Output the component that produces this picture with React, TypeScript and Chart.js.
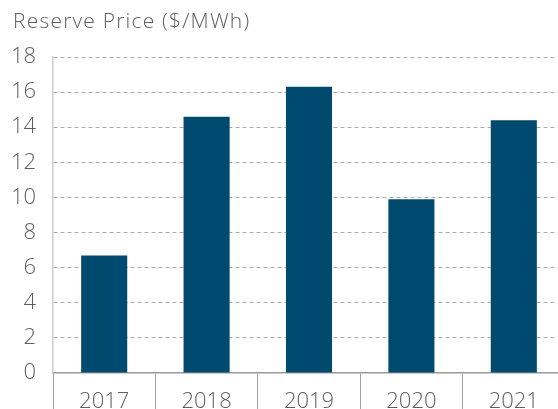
import React, { useEffect, useRef } from "react";
import { Chart, registerables } from "chart.js";

Chart.register(...registerables);

const categories = ["2017", "2018", "2019", "2020", "2021"];
const reservePrice = [6.7, 14.6, 16.3, 9.9, 14.4];
const yTicks = [0, 2, 4, 6, 8, 10, 12, 14, 16, 18];
const titleText = "Reserve Price ($/MWh)";

const FONT = "'Open Sans', 'DejaVu Sans', sans-serif";
const TEXT_COLOR = "#5f5f5f";

const titlePlugin = {
  id: "customTitle",
  afterDraw(chart: any) {
    const ctx = chart.ctx;
    ctx.save();
    ctx.font = `300 21px ${FONT}`;
    try {
      (ctx as any).letterSpacing = "1.2px";
    } catch (e) {}
    ctx.fillStyle = TEXT_COLOR;
    ctx.textAlign = "left";
    ctx.textBaseline = "alphabetic";
    ctx.fillText(titleText, 13, 28);
    ctx.restore();
  },
};

export default function App() {
  const ref = useRef<HTMLCanvasElement | null>(null);

  useEffect(() => {
    if (!ref.current) return;
    const chart = new Chart(ref.current, {
      type: "bar",
      data: {
        labels: categories,
        datasets: [
          {
            data: reservePrice,
            backgroundColor: "#004a6f",
            borderWidth: 0,
            categoryPercentage: 0.45,
            barPercentage: 1,
          },
        ],
      },
      plugins: [titlePlugin],
      options: {
        responsive: false,
        animation: false,
        layout: { padding: { top: 57, left: 0, right: 0, bottom: 0 } },
        plugins: {
          legend: { display: false },
          tooltip: { enabled: false },
          title: { display: false },
        },
        scales: {
          x: {
            offset: true,
            grid: {
              display: true,
              offset: true,
              drawOnChartArea: false,
              drawTicks: true,
              tickLength: 36,
              color: "#a0a0a0",
              lineWidth: 1,
            },
            border: { display: true, color: "#9a9a9a", width: 1.5 },
            ticks: {
              padding: -20,
              color: TEXT_COLOR,
              font: { family: FONT, size: 22, weight: "300" as any },
              maxRotation: 0,
            },
            afterFit: (scale: any) => {
              scale.height = 36;
            },
          },
          y: {
            min: 0,
            max: 18,
            afterBuildTicks: (scale: any) => {
              scale.ticks = yTicks.map((v) => ({ value: v }));
            },
            grid: {
              display: true,
              drawTicks: false,
              color: (c: any) => (c.tick && c.tick.value === 0 ? "rgba(0,0,0,0)" : "#acacac"),
              lineWidth: 1,
            },
            border: { display: true, color: "#cccccc", width: 1.5, dash: [4, 3] },
            ticks: {
              padding: 17,
              color: TEXT_COLOR,
              font: { family: FONT, size: 22, weight: "300" as any },
            },
            afterFit: (scale: any) => {
              scale.width = 53;
            },
          },
        },
      },
    });
    return () => chart.destroy();
  }, []);

  return (
    <div
      style={{
        position: "absolute",
        left: 0,
        top: 0,
        width: 558,
        height: 409,
        overflow: "hidden",
        background: "#fff",
      }}
    >
      <canvas ref={ref} width={565} height={409} style={{ display: "block" }} />
    </div>
  );
}
